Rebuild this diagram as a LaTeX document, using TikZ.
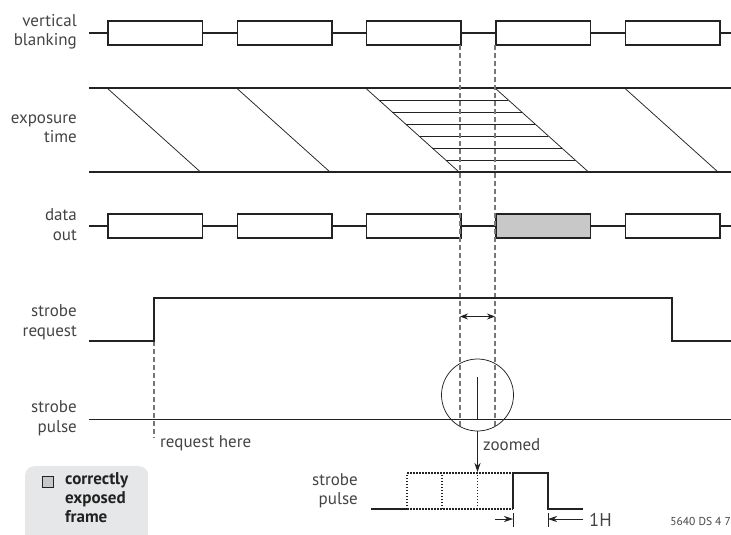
\documentclass[tikz,border=0pt]{standalone}
\usepackage{fontspec}
\setmainfont{PT Sans}
\usetikzlibrary{arrows.meta}
\definecolor{ink}{HTML}{222222}
\definecolor{txt}{HTML}{444444}
\definecolor{dashc}{HTML}{777777}
\definecolor{shade}{HTML}{C8C8C8}
\definecolor{legbg}{HTML}{E6E7E8}
\begin{document}
\begin{tikzpicture}[x=1pt,y=-1pt,
  sig/.style={line width=1.8pt, draw=ink},
  thinl/.style={line width=0.75pt, draw=ink},
  frm/.style={draw=ink, line width=1.8pt, fill=white, minimum width=94.5pt, minimum height=24pt, inner sep=0pt, anchor=west},
  lbl/.style={align=right, anchor=east, font=\fontsize{17}{19.5}\selectfont, text=txt, inner sep=0pt},
  ltxt/.style={anchor=west, font=\fontsize{17}{19.5}\selectfont, text=txt, inner sep=0pt},
  dsh/.style={draw=dashc, line width=1.1pt, dash pattern=on 5pt off 3pt},
  dotl/.style={draw=ink, line width=1.6pt, dash pattern=on 1.5pt off 1.5pt},
  arr/.style={-{Stealth[length=9pt,width=6pt]}, line width=0.8pt, draw=ink},
]
\useasboundingbox (0,0) rectangle (731,535);

% ---- labels ----
\node[lbl] (lvb) at (77,32) {vertical\\blanking};
\node[lbl] (lex) at (77,128.5) {exposure\\time};
\node[lbl] (ldo) at (77,224.5) {data\\out};
\node[lbl] (lsr) at (77,322) {strobe\\request};
\node[lbl] (lsp) at (77,418) {strobe\\pulse};

% ---- vertical blanking ----
\coordinate (vbs) at (89,33);
\coordinate (vbe) at (731,33);
\foreach \i/\x in {1/107,2/236.5,3/365.5,4/495,5/624.5}{
  \node[frm] (vb\i) at (\x,33) {};
}
\draw[sig] (vbs) -- (vb1.west) (vb1.east) -- (vb2.west) (vb2.east) -- (vb3.west)
  (vb3.east) -- (vb4.west) (vb4.east) -- (vb5.west) (vb5.east) -- (vbe);

% ---- exposure time ----
\coordinate (ets) at (89,88);  \coordinate (ete) at (731,88);
\coordinate (ebs) at (89,172); \coordinate (ebe) at (731,172);
% hatch lines of the exposed frame
\foreach \k in {1,...,6}{
  \pgfmathsetmacro{\yy}{88+12*\k}
  \pgfmathsetmacro{\xa}{365.5+93.5*12*\k/84}
  \pgfmathsetmacro{\xb}{495+93.5*12*\k/84}
  \draw[thinl] (\xa,\yy) -- (\xb,\yy);
}
\foreach \x in {107,236.5,365.5,495,624.5}{
  \draw[thinl] (\x,88) -- ({\x+93.5},172);
}
\draw[line width=1.3pt, draw=ink] (ets) -- (ete);
\draw[sig] (ebs) -- (ebe);

% ---- data out ----
\coordinate (dos) at (89,226);
\coordinate (doe) at (731,226);
\foreach \i/\x in {1/107,2/236.5,3/365.5,5/624.5}{
  \node[frm] (do\i) at (\x,226) {};
}
\node[frm, fill=shade] (do4) at (495,226) {};
\draw[sig] (dos) -- (do1.west) (do1.east) -- (do2.west) (do2.east) -- (do3.west)
  (do3.east) -- (do4.west) (do4.east) -- (do5.west) (do5.east) -- (doe);

% ---- dashed guides ----
\coordinate (g1t) at (460,45);  \coordinate (g1b) at (460,426);
\coordinate (g2t) at (495,45);  \coordinate (g2b) at (495,426);
\coordinate (g3t) at (154,341); \coordinate (g3b) at (154,438);
\draw[dsh] (g1t) -- (g1b);
\draw[dsh] (g2t) -- (g2b);
\draw[dsh] (g3t) -- (g3b);

% ---- strobe request ----
\coordinate (sr0) at (89,341);
\coordinate (sr1) at (154,341);
\coordinate (sr2) at (154,298);
\coordinate (sr3) at (672,298);
\coordinate (sr4) at (672,341);
\coordinate (sr5) at (731,341);
\draw[sig] (sr0) -- (sr1) -- (sr2) -- (sr3) -- (sr4) -- (sr5);

% window arrow
\coordinate (wa) at (460,316.5);
\coordinate (wb) at (495,316.5);
\draw[{Stealth[length=8pt,width=6pt]}-{Stealth[length=8pt,width=6pt]}, line width=0.8pt, draw=ink] (wa) -- (wb);

% ---- strobe pulse ----
\coordinate (sp0) at (89,419.5);
\coordinate (sp1) at (731,419.5);
\draw[line width=1.5pt, draw=ink] (sp0) -- (sp1);
\coordinate (pb) at (477.5,419.5);
\coordinate (pt) at (477.5,377);
\draw[sig] (pb) -- (pt);
\node[circle, draw=ink, line width=0.75pt, minimum size=72pt, inner sep=0pt] (zc) at (477.5,395) {};

\node[ltxt] (rh) at (160,443) {request here};

% zoom arrow
\coordinate (za) at (477.5,472);
\draw[arr] (zc.south) -- (za);
\node[ltxt] (zm) at (483,445) {zoomed};

% ---- zoomed pulse ----
\node[lbl] (lzp) at (358,490.5) {strobe\\pulse};
\coordinate (z0) at (371,509);
\coordinate (z1) at (407,509);
\coordinate (z1t) at (407,473);
\coordinate (z2) at (442,509);
\coordinate (z2t) at (442,473);
\coordinate (z3) at (477.5,509);
\coordinate (z3t) at (477.5,473);
\coordinate (z4) at (513,509);
\coordinate (z4t) at (513,473);
\coordinate (z5) at (548,509);
\coordinate (z5t) at (548,473);
\coordinate (z6) at (583,509);
\draw[dotl] (z1) -- (z4) (z1) -- (z1t) -- (z4t) (z2) -- (z2t) (z3) -- (z3t);
\draw[sig] (z0) -- (z1);
\draw[sig] (z4) -- (z4t) -- (z5t) -- (z5) -- (z6);

% dimension 1H
\coordinate (t1a) at (513,513); \coordinate (t1b) at (513,527);
\coordinate (t2a) at (548,513); \coordinate (t2b) at (548,527);
\draw[line width=0.75pt, draw=ink] (t1a) -- (t1b) (t2a) -- (t2b);
\coordinate (d1s) at (495,519); \coordinate (d1e) at (513,519);
\coordinate (d2s) at (583,519); \coordinate (d2e) at (548,519);
\draw[arr] (d1s) -- (d1e);
\draw[arr] (d2s) -- (d2e);
\node[anchor=west, font=\fontsize{18.5}{20}\selectfont, text=txt, inner sep=0pt] (oneh) at (589,519.5) {1H};
\node[anchor=east, font=\fontsize{11.5}{13}\selectfont, text=txt, inner sep=0pt] (code) at (731,521) {5640 DS 4 7};

% ---- legend ----
\node[draw=none, fill=legbg, rounded corners=9pt, minimum width=123pt, minimum height=80pt, anchor=north west, inner sep=0pt] (leg) at (25,466) {};
\node[draw=ink, fill=shade, line width=1.2pt, minimum size=11pt, inner sep=0pt] (chk) at (48,482) {};
\node[anchor=north west, align=left, font=\bfseries\fontsize{17}{19}\selectfont, text=ink, inner sep=0pt] (legt) at (65,472) {correctly\\exposed\\frame};
\end{tikzpicture}
\end{document}
